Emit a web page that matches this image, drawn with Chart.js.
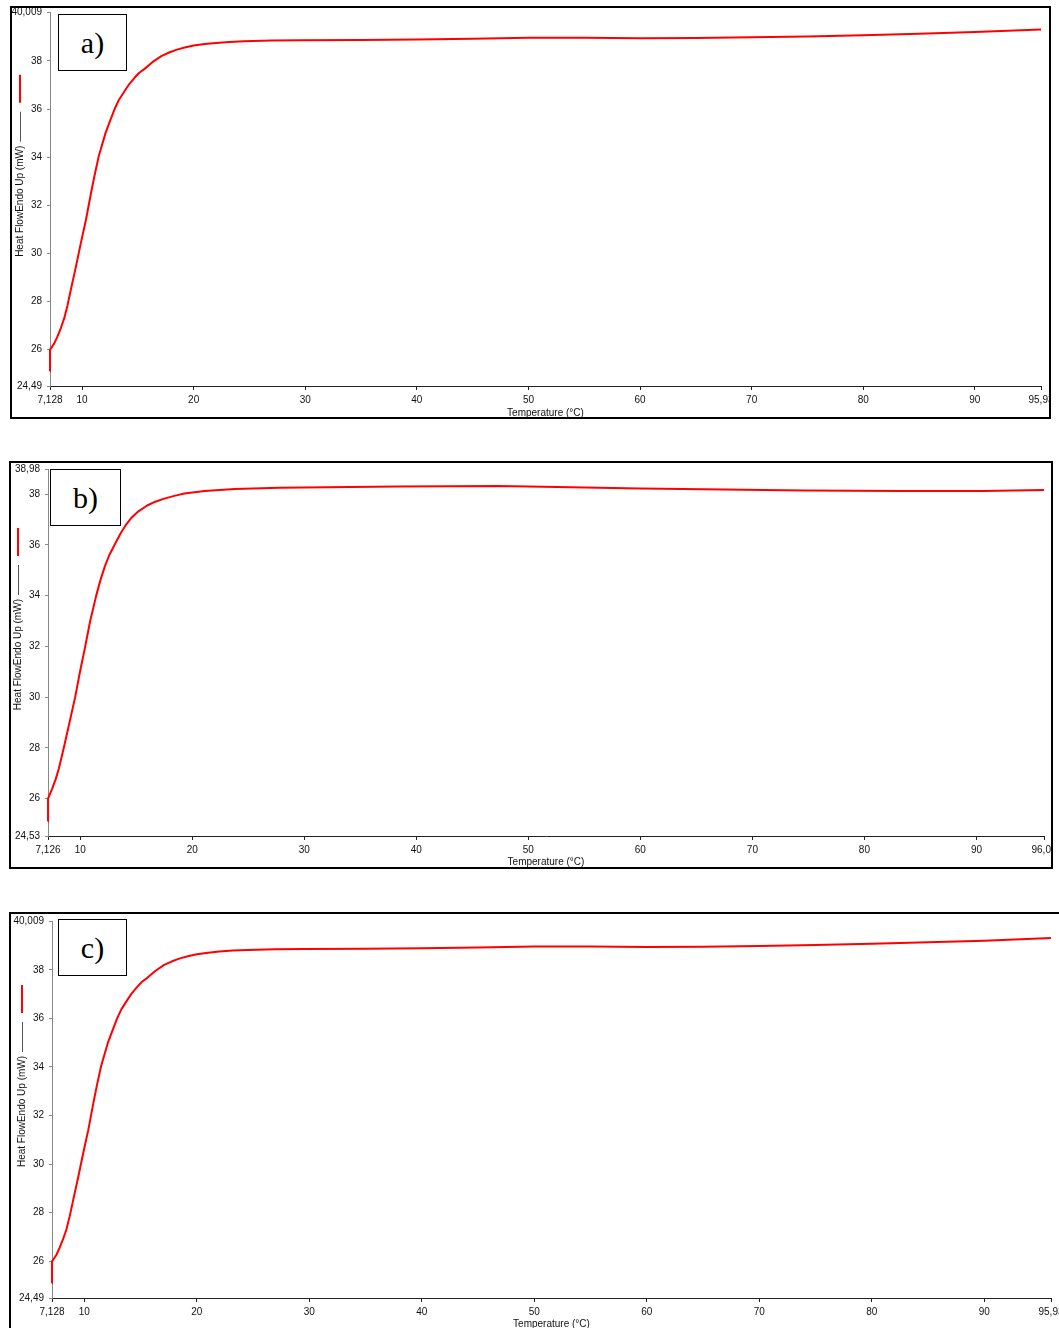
<!DOCTYPE html>
<html>
<head>
<meta charset="utf-8">
<script src="https://cdn.jsdelivr.net/npm/chart.js@4.4.0/dist/chart.umd.min.js"></script>
<style>
  html, body { margin:0; padding:0; background:#fff; }
  body { width:1059px; height:1328px; overflow:hidden; position:relative; }
  .panel { position:absolute; border:2px solid #000; box-sizing:border-box; background:#fff; }
  .panel canvas { position:absolute; left:0; top:0; }
  .tag {
    position:absolute; border:1.5px solid #000; box-sizing:border-box; background:#fff;
    font-family:"Liberation Serif","Times New Roman",serif; font-size:30px; color:#000;
    display:flex; align-items:center; justify-content:center; line-height:1;
  }
</style>
</head>
<body>
<script>
// ---- data ----
const tempA = [7.128, 7.13, 7.5, 7.8, 8.1, 8.4, 8.7, 9.0, 9.45, 9.9, 10.35, 10.8, 11.1, 11.5, 12.1, 12.5, 12.9, 13.3, 13.8, 14.2, 14.7, 15.1, 15.6, 16.3, 17.1, 17.8, 18.5, 19.2, 20.0, 21, 22.0, 23.2, 24.5, 27, 29.5, 35, 40, 45, 50, 55, 60, 65, 70, 75, 80, 85, 90, 95.93];
const heatA = [25.1, 26.0, 26.25, 26.55, 26.9, 27.3, 27.85, 28.5, 29.45, 30.45, 31.4, 32.5, 33.2, 34.05, 35.0, 35.5, 35.98, 36.38, 36.74, 37.02, 37.3, 37.5, 37.67, 37.95, 38.2, 38.35, 38.47, 38.56, 38.64, 38.7, 38.75, 38.79, 38.82, 38.85, 38.86, 38.87, 38.89, 38.92, 38.96, 38.96, 38.94, 38.95, 38.98, 39.02, 39.07, 39.13, 39.2, 39.31];

const tempB = [7.126, 7.13, 7.5, 7.8, 8.1, 8.48, 9.02, 9.55, 9.96, 10.45, 10.89, 11.43, 11.8, 12.2, 12.6, 13.13, 13.6, 14.1, 14.6, 15.2, 15.98, 16.7, 17.5, 18.4, 19.3, 21.1, 23.8, 27.8, 32, 38.4, 47.3, 52.6, 60, 67.5, 74.6, 83.5, 90.6, 96.03];
const heatB = [25.1, 26.0, 26.4, 26.75, 27.2, 27.9, 28.95, 30.0, 30.95, 32.0, 33.0, 34.0, 34.6, 35.15, 35.6, 36.05, 36.45, 36.8, 37.08, 37.32, 37.55, 37.7, 37.82, 37.93, 38.02, 38.12, 38.2, 38.25, 38.27, 38.3, 38.32, 38.28, 38.22, 38.18, 38.14, 38.12, 38.12, 38.16];

const tempC = [7.128, 7.13, 7.5, 7.8, 8.1, 8.4, 8.7, 9.0, 9.45, 9.9, 10.35, 10.8, 11.1, 11.5, 12.1, 12.5, 12.9, 13.3, 13.8, 14.2, 14.7, 15.1, 15.6, 16.3, 17.1, 17.8, 18.5, 19.2, 20.0, 21, 22.0, 23.2, 24.5, 27, 29.5, 35, 40, 45, 50, 55, 60, 65, 70, 75, 80, 85, 90, 95.93];
const heatC = [25.1, 26.0, 26.25, 26.55, 26.9, 27.3, 27.85, 28.5, 29.45, 30.45, 31.4, 32.5, 33.2, 34.05, 35.0, 35.5, 35.98, 36.38, 36.74, 37.02, 37.3, 37.5, 37.67, 37.95, 38.2, 38.35, 38.47, 38.56, 38.64, 38.7, 38.75, 38.79, 38.82, 38.85, 38.86, 38.87, 38.89, 38.92, 38.96, 38.96, 38.94, 38.95, 38.98, 39.02, 39.07, 39.13, 39.2, 39.31];

const xTicksA = [7.128, 10, 20, 30, 40, 50, 60, 70, 80, 90, 95.93];
const xTicksB = [7.126, 10, 20, 30, 40, 50, 60, 70, 80, 90, 96.03];
const xTicksC = [7.128, 10, 20, 30, 40, 50, 60, 70, 80, 90, 95.93];
const yTicksA = [24.49, 26, 28, 30, 32, 34, 36, 38, 40.009];
const yTicksB = [24.53, 26, 28, 30, 32, 34, 36, 38, 38.98];
const yTicksC = [24.49, 26, 28, 30, 32, 34, 36, 38, 40.009];

const xTitle = 'Temperature (°C)';
const yTitle = 'Heat FlowEndo Up (mW)';

Chart.defaults.font.family = '"Liberation Sans", Arial, sans-serif';
Chart.defaults.font.size = 10;
Chart.defaults.color = '#111';

// decimal comma like the instrument software
function fmt(v) {
    return String(v).replace('.', ',');
}

// page layout of each panel: outer box and plot rectangle
const panels = [
    { tag: 'a)', temp: tempA, heat: heatA, xTicks: xTicksA, yTicks: yTicksA,
      box: [10, 6, 1041, 413], plot: { left: 50, top: 12.6, right: 1041, bottom: 386 },
      tagBox: [58, 14, 69, 57], titlePad: -2 },
    { tag: 'b)', temp: tempB, heat: heatB, xTicks: xTicksB, yTicks: yTicksB,
      box: [9, 461, 1044, 408], plot: { left: 48, top: 469.2, right: 1044, bottom: 836 },
      tagBox: [50, 469, 71, 57], titlePad: -1 },
    { tag: 'c)', temp: tempC, heat: heatC, xTicks: xTicksC, yTicks: yTicksC,
      box: [9, 912, 1060, 430], plot: { left: 52, top: 921, right: 1051, bottom: 1298 },
      tagBox: [58, 919, 69, 57], titlePad: 10 }
];

function yTitlePlugin() {
    return {
        id: 'yTitleLegend',
        afterDraw(chart) {
            const ctx = chart.ctx;
            const area = chart.chartArea;
            const x = area.left - 30;
            const cy = (area.top + area.bottom) / 2 + 2;
            ctx.save();
            ctx.font = '10px "Liberation Sans", Arial, sans-serif';
            ctx.fillStyle = '#111';
            const half = ctx.measureText(yTitle).width / 2;
            ctx.translate(x, cy);
            ctx.rotate(-Math.PI / 2);
            ctx.textAlign = 'center';
            ctx.textBaseline = 'middle';
            ctx.fillText(yTitle, 0, 0);
            ctx.restore();

            // legend sample lines above the title
            const top = cy - half;
            ctx.save();
            ctx.strokeStyle = '#555';
            ctx.lineWidth = 1;
            ctx.beginPath();
            ctx.moveTo(x + 0.5, top - 34);
            ctx.lineTo(x + 0.5, top - 4);
            ctx.stroke();
            ctx.strokeStyle = '#ff0000';
            ctx.lineWidth = 2;
            ctx.beginPath();
            ctx.moveTo(x, top - 71);
            ctx.lineTo(x, top - 43);
            ctx.stroke();
            ctx.restore();
        }
    };
}

function makePanel(p) {
    const div = document.createElement('div');
    div.className = 'panel';
    div.style.left = p.box[0] + 'px';
    div.style.top = p.box[1] + 'px';
    div.style.width = p.box[2] + 'px';
    div.style.height = p.box[3] + 'px';
    document.body.appendChild(div);

    const cw = p.box[2] - 4, ch = p.box[3] - 4;
    const ox = p.box[0] + 2, oy = p.box[1] + 2;
    const canvas = document.createElement('canvas');
    canvas.width = cw;
    canvas.height = ch;
    canvas.style.width = cw + 'px';
    canvas.style.height = ch + 'px';
    div.appendChild(canvas);

    const padTop = p.plot.top - oy;
    const padRight = ox + cw - p.plot.right;
    const yWidth = p.plot.left - ox;
    const xHeight = oy + ch - p.plot.bottom;

    new Chart(canvas, {
        type: 'line',
        data: {
            datasets: [{
                data: p.temp.map((t, i) => ({ x: t, y: p.heat[i] })),
                borderColor: '#ff0000',
                borderWidth: 2,
                pointRadius: 0,
                tension: 0,
                borderJoinStyle: 'round',
                clip: false
            }]
        },
        options: {
            responsive: false,
            animation: false,
            devicePixelRatio: 1,
            layout: { padding: { top: padTop, right: padRight, left: 0, bottom: 0 } },
            plugins: { legend: { display: false }, tooltip: { enabled: false } },
            scales: {
                x: {
                    type: 'linear',
                    min: p.xTicks[0],
                    max: p.xTicks[p.xTicks.length - 1],
                    afterBuildTicks: s => { s.ticks = p.xTicks.map(v => ({ value: v })); },
                    afterFit: s => { s.height = xHeight; s.paddingLeft = 0; s.paddingRight = 0; },
                    ticks: { autoSkip: false, maxRotation: 0, padding: 4, callback: v => fmt(v) },
                    grid: { drawOnChartArea: false, tickLength: 4, color: '#222' },
                    border: { color: '#222', width: 1 },
                    title: { display: true, text: xTitle, padding: { top: 0, bottom: p.titlePad }, font: { size: 10 } }
                },
                y: {
                    type: 'linear',
                    min: p.yTicks[0],
                    max: p.yTicks[p.yTicks.length - 1],
                    afterBuildTicks: s => { s.ticks = p.yTicks.map(v => ({ value: v })); },
                    afterFit: s => { s.width = yWidth; s.paddingTop = 0; s.paddingBottom = 0; },
                    ticks: { autoSkip: false, padding: 5, callback: v => fmt(v) },
                    grid: { drawOnChartArea: false, tickLength: 3, color: '#888' },
                    border: { color: '#888', width: 1 }
                }
            }
        },
        plugins: [yTitlePlugin()]
    });

    const tag = document.createElement('div');
    tag.className = 'tag';
    tag.textContent = p.tag;
    tag.style.left = p.tagBox[0] + 'px';
    tag.style.top = p.tagBox[1] + 'px';
    tag.style.width = p.tagBox[2] + 'px';
    tag.style.height = p.tagBox[3] + 'px';
    document.body.appendChild(tag);
}

panels.forEach(makePanel);
</script>
</body>
</html>
